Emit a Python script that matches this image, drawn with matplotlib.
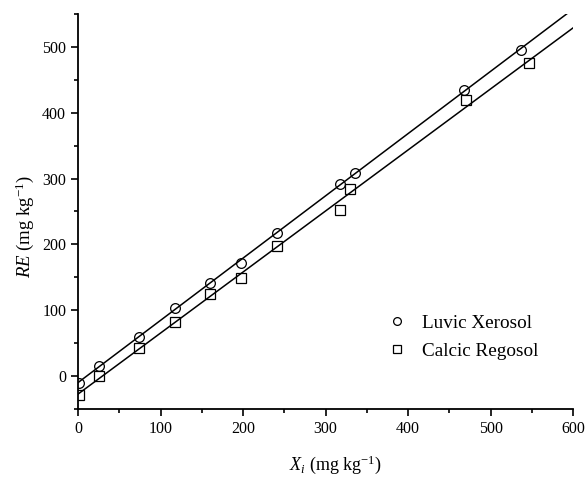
import numpy as np
import matplotlib
matplotlib.use("Agg")
import matplotlib.pyplot as plt
from matplotlib.ticker import MultipleLocator

plt.rcParams['font.family'] = ['Liberation Serif', 'DejaVu Serif']
plt.rcParams['mathtext.fontset'] = 'custom'
plt.rcParams['mathtext.rm'] = 'Liberation Serif'
plt.rcParams['mathtext.it'] = 'Liberation Serif:italic'

# added amount X_i vs recovered RE (mg kg-1)
luvic_x = [1, 25, 74, 118, 160, 197, 241, 317, 336, 467, 537]
luvic_re = [-10, 16, 60, 103, 141, 172, 217, 292, 309, 435, 495]
calcic_x = [1, 25, 74, 118, 160, 197, 241, 317, 330, 470, 546]
calcic_re = [-28, 0, 42, 82, 125, 149, 197, 253, 284, 419, 475]

fig = plt.figure(figsize=(5.85, 4.79), dpi=100)
ax = fig.add_axes([0.1333, 0.146, 0.8467, 0.825])

xx = np.array([0, 600])
for xs, ys, mk, lab in [(luvic_x, luvic_re, 'o', 'Luvic Xerosol'),
                        (calcic_x, calcic_re, 's', 'Calcic Regosol')]:
    k, b = np.polyfit(xs, ys, 1)
    ax.plot(xx, k * xx + b, color='black', lw=1.1)
    ax.plot(xs, ys, linestyle='none', marker=mk, ms=7 if mk == 'o' else 6.5,
            mfc='none', mec='black', mew=0.9, label=lab)

ax.set_xlim(0, 600)
ax.set_ylim(-50, 550)
ax.xaxis.set_major_locator(MultipleLocator(100))
ax.xaxis.set_minor_locator(MultipleLocator(50))
ax.yaxis.set_major_locator(MultipleLocator(100))
ax.yaxis.set_minor_locator(MultipleLocator(50))
ax.tick_params(which='both', direction='out', width=1.2, labelsize=11.5)
ax.tick_params(which='major', length=5)
ax.tick_params(which='minor', length=3)

for s in ['top', 'right']:
    ax.spines[s].set_visible(False)
for s in ['left', 'bottom']:
    ax.spines[s].set_linewidth(1.3)

ax.set_xlabel(r'$X_{i}$ (mg kg$^{\mathregular{-1}}$)', fontsize=13)
ax.xaxis.set_label_coords(0.52, -0.113)
ax.set_ylabel(r'$RE$ (mg kg$^{\mathregular{-1}}$)', fontsize=13.5)
ax.yaxis.set_label_coords(-0.084, 0.463)

ax.legend(loc='upper left', bbox_to_anchor=(0.586, 0.283), frameon=False,
          fontsize=13.8, handletextpad=0.7, labelspacing=0.55, handlelength=1.2,
          markerscale=0.8)

fig.savefig('out.png', dpi=100)
